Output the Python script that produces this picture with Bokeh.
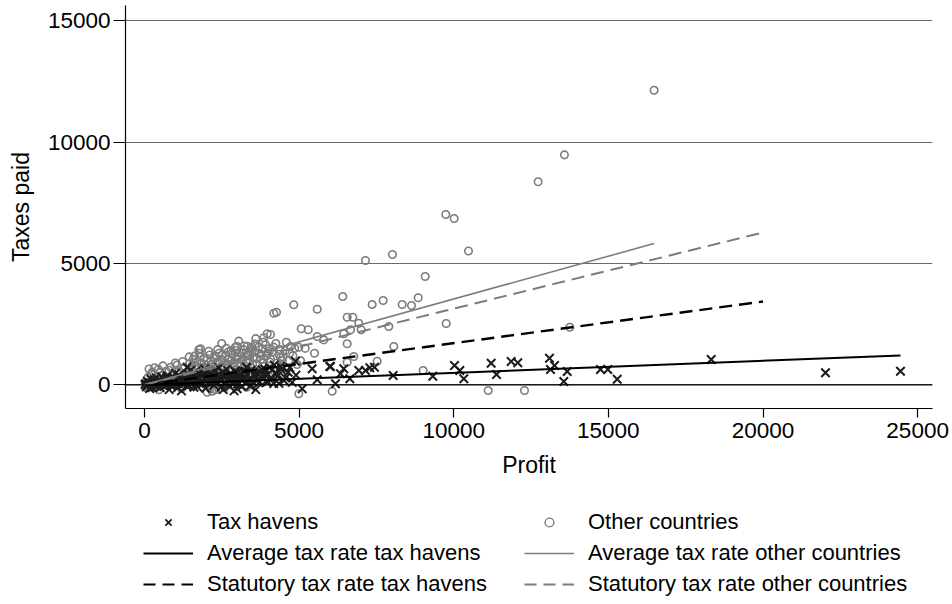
from bokeh.plotting import figure
from bokeh.models import Range1d, Legend, LegendItem, Span, ColumnDataSource
from bokeh.layouts import column
from bokeh.embed import file_html
from bokeh.resources import INLINE

# ---------------- data ----------------
other_profit = [16480, 13580, 12730, 9745, 10016, 10478, 8021, 7148, 9078, 8335,
                8636, 8852, 9757, 13754, 9013, 11115, 12289, 6415, 7364, 7720,
                6556, 6738, 6932, 6447, 6663, 7009, 6556, 7902, 8064, 6770,
                7526, 6072, 4184, 4271, 4830, 5587, 5069, 5296, 5587, 4077,
                3861, 3841, 4022, 4400, 4724, 4992, 3000, 3485, 2978, 4669,
                4940, 4992, 2030, 2192, 1814, 6556, 5047, 4455, 1760, 3970,
                3324, 2137, 466, 68,
                120, 250, 380, 450, 560, 610, 700, 780, 850, 920,
                980, 1050, 1110, 1180, 1240, 1290, 1350, 1410, 1460, 1520,
                1580, 1630, 1690, 1740, 1800, 1850, 1900, 1960, 2010, 2060,
                2110, 2160, 2210, 2260, 2310, 2360, 2410, 2460, 2510, 2560,
                2610, 2660, 2710, 2760, 2810, 2860, 2910, 2960, 3010, 3060,
                3110, 3160, 3210, 3260, 3310, 3360, 3410, 3460, 3520, 3580,
                3640, 3700, 3760, 3820, 3880, 3950, 4050, 4150, 4250, 4350,
                4550, 4800, 5200, 5500, 5800,
                30, 80, 200, 300, 420, 520, 640, 760, 900, 1020,
                1150, 1300, 1500, 1700, 1950, 2200, 2450, 2700, 2950, 3200,
                3450, 3700, 3900, 4200, 4600, 150, 330, 600, 1000, 1450,
                2300, 2600, 1200, 3300,
                1550, 1620, 1700, 1780, 1860, 1930, 2000, 2080, 2150, 2230,
                2290, 2370, 2440, 2520, 2590, 2650, 2730, 2800, 2870, 2940,
                3030, 3090, 3150, 3230, 3290, 3370, 3440, 3500, 3560, 3630,
                3690, 3780, 3840, 3920, 3990, 4080, 4180, 4290, 4380, 4480,
                4590, 4700, 4860, 4450, 3350, 2850, 2350, 1850, 1250, 800,
                500, 220, 3050, 2500, 3600]
other_tax = [12130, 9470, 8360, 7014, 6849, 5513, 5367, 5119, 4460, 3307,
             3266, 3583, 2525, 2372, 589, -235, -235, 3637, 3307, 3472,
             2784, 2784, 2537, 2100, 2265, 2265, 1689, 2401, 1577, 1166,
             972, -263, 2949, 2990, 3295, 3114, 2306, 2265, 1989, 2072,
             1936, 1755, 1483, 1137, 1577, 1549, 1577, 1549, 1413, 1001,
             836, -371, -305, -263, 1483, 931, 1001, 1001, 1441, 2100,
             1590, -165, -206, -124,
             310, 520, 150, 640, 380, 90, 560, 280, 720, 450,
             180, 810, 590, 330, 960, 700, 480, 150, 880, 640,
             1050, 390, 770, 520, 1150, 900, 260, 680, 1020, 480,
             1230, 830, 600, 1100, 350, 950, 1300, 720, 1040, 490,
             1180, 860, 1350, 620, 990, 1250, 760, 1100, 880, 1330,
             560, 1020, 1450, 780, 1200, 940, 1380, 680, 1130, 1680,
             860, 1290, 1040, 1480, 760, 1200, 940, 1350, 1700, 1260,
             1400, 1200, 1500, 1300, 1850,
             80, -60, 40, -90, 250, 30, 210, -40, 120, 20,
             240, 60, 320, 130, 40, 260, 110, 340, 200, 420,
             280, 500, 330, 560, 700, 650, 700, 780, 900, 1150,
             -200, -120, -150, -100,
             820, 1180, 950, 1300, 700, 1100, 820, 1380, 1000, 750,
             1180, 1450, 880, 1250, 700, 1500, 1050, 1400, 900, 1550,
             1150, 760, 1300, 1600, 950, 1250, 1500, 850, 1350, 1100,
             1550, 1250, 900, 1650, 1300, 1050, 1550, 900, 1450, 1150,
             1750, 1300, 1500, 800, 650, 550, 500, 450, 650, 600,
             500, 450, 1800, 1700, 1900]

haven_profit = [9324, 10026, 10198, 10327, 11212, 11384, 11859, 12072, 13097, 13259,
                13130, 13669, 13560, 14746, 14982, 15286, 18325, 22020, 24445, 6016,
                6447, 6340, 6178, 6641, 6932, 7148, 7288, 7439, 8043, 4885,
                5425, 5995, 5587, 5102, 4400, 3000, 3194, 3647, 3915, 4508,
                3970, 1384, 1005,
                20, 60, 90, 130, 170, 210, 260, 300, 340, 380,
                420, 470, 510, 560, 600, 650, 700, 740, 790, 830,
                880, 930, 970, 1020, 1070, 1120, 1160, 1210, 1250, 1300,
                1350, 1400, 1440, 1490, 1530, 1580, 1620, 1670, 1710, 1760,
                1800, 1850, 1890, 1940, 1980, 2030, 2070, 2120, 2160, 2210,
                2250, 2300, 2340, 2390, 2430, 2480, 2520, 2570, 2610, 2660,
                2700, 2750, 2790, 2840, 2880, 2930, 2970, 3020, 3070, 3120,
                3170, 3220, 3280, 3330, 3390, 3450, 3510, 3580, 3660, 3740,
                3820, 3900, 4000, 4120, 4250, 4350,
                40, 110, 190, 240, 320, 400, 450, 530, 620, 680,
                760, 850, 950, 1100, 1230, 1380, 1520, 1650, 1780, 1920,
                2100, 2280, 2460, 2640, 2820, 3000, 3150, 3350,
                550, 720, 900, 1080, 1260, 1450, 1600, 1730, 1880, 2010,
                2190, 2370, 2550, 2730, 2910, 3090, 3260, 3420, 3550, 3700,
                3800, 3950, 4050, 4180, 4300, 4420, 4560, 4650, 4780, 4200,
                3600, 2900, 2400, 1950, 1500, 3300, 4700, 4900, 1200, 800]
haven_tax = [355, 795, 589, 247, 890, 424, 960, 906, 1096, 795,
             630, 548, 136, 630, 630, 231, 1042, 494, 560, 754,
             659, 453, 41, 247, 589, 589, 700, 725, 383, 972,
             659, 754, 206, -165, 754, -165, 560, 478, 383, 177,
             107, 725, 478,
             10, -80, 150, 60, -150, 230, 40, 120, -40, 290,
             90, 180, -110, 330, 60, 200, -20, 380, 140, 250,
             -60, 310, 100, 200, -120, 400, 150, 280, 20, 340,
             120, 460, -30, 230, 350, 80, 500, 180, -80, 300,
             420, 130, 560, 240, -140, 380, 60, 480, 200, 330,
             -20, 600, 150, 420, 260, -100, 520, 90, 350, 640,
             200, -50, 440, 300, 120, 560, 260, 30, 380, 480,
             170, 320, 60, 430, 240, 600, 110, 350, 200, 520,
             280, 640, 430, 250, 500, 60,
             40, -20, 90, -110, 200, -60, 50, 150, -40, 100,
             20, 200, -20, 50, 180, -60, 20, 360, 50, 420,
             250, 120, 380, 30, 200, 500, -60, 150,
             120, 280, 40, 300, 100, 380, -100, 200, 40, 520,
             80, 280, -200, 420, 80, 260, 560, -50, 450, 80,
             620, 180, 700, 50, 350, 620, 280, 520, 100, 820,
             -200, -250, 700, 650, 600, 720, 700, 400, -250, -200]

# fitted lines: endpoints (profit, taxes)
avg_haven_x = [0, 24445]
avg_haven_y = [0, 1207]
stat_haven_x = [0, 20000]
stat_haven_y = [0, 3430]
avg_other_x = [0, 16480]
avg_other_y = [0, 5820]
stat_other_x = [0, 20000]
stat_other_y = [0, 6273]

x_ticks = [0, 5000, 10000, 15000, 20000, 25000]
y_ticks = [0, 5000, 10000, 15000]

legend_labels = ["Tax havens", "Other countries",
                 "Average tax rate tax havens", "Average tax rate other countries",
                 "Statutory tax rate tax havens", "Statutory tax rate other countries"]

# ---------------- styling ----------------
FONT = "Liberation Sans"
GREY = "#7c7c7c"
DARK = "#1c1c1c"
DASH = "13 7"
KEY_DASH = "12 7"

p = figure(width=952, height=500, output_backend="svg", toolbar_location=None,
           x_range=Range1d(-611, 25480), y_range=Range1d(-976, 15622),
           min_border_left=125, min_border_right=20, min_border_top=5,
           min_border_bottom=92)
p.outline_line_color = None
p.background_fill_color = "white"
p.border_fill_color = "white"

p.xgrid.visible = False
p.ygrid.grid_line_color = "#6a6a6a"
p.ygrid.grid_line_width = 1.2

for ax in (p.xaxis[0], p.yaxis[0]):
    ax.axis_line_color = "black"
    ax.axis_line_width = 1.2
    ax.major_tick_line_color = "black"
    ax.major_tick_line_width = 1.2
    ax.major_tick_in = 0
    ax.minor_tick_line_color = None
    ax.major_label_text_font = FONT
    ax.major_label_text_font_size = "22.5px"
    ax.major_label_text_color = "black"
    ax.axis_label_text_font = FONT
    ax.axis_label_text_font_size = "23px"
    ax.axis_label_text_font_style = "normal"
    ax.axis_label_text_color = "black"

p.xaxis.ticker = x_ticks
p.yaxis.ticker = y_ticks
p.xaxis.major_tick_out = 9
p.yaxis.major_tick_out = 12
p.xaxis.major_label_standoff = 5
p.yaxis.major_label_standoff = 3
p.xaxis.axis_label = "Profit"
p.yaxis.axis_label = "Taxes paid"
p.xaxis.axis_label_standoff = 11
p.yaxis.axis_label_standoff = 11

p.add_layout(Span(location=0, dimension="width", line_color="black", line_width=1.2))

src_o = ColumnDataSource(dict(x=other_profit, y=other_tax))
src_h = ColumnDataSource(dict(x=haven_profit, y=haven_tax))

p.scatter("x", "y", source=src_o, marker="circle", size=7.5,
          line_color=GREY, line_width=1.6, fill_color=None)
p.scatter("x", "y", source=src_h, marker="x", size=12,
          line_color=DARK, line_width=2)

p.line(avg_haven_x, avg_haven_y, line_color="black", line_width=2)
p.line(avg_other_x, avg_other_y, line_color=GREY, line_width=1.6)
p.line(stat_haven_x, stat_haven_y, line_color="black", line_width=2.4, line_dash=DASH)
p.line(stat_other_x, stat_other_y, line_color=GREY, line_width=2, line_dash=DASH)

# ---------------- legend panel (keys only, no data drawn) ----------------
q = figure(width=952, height=104, output_backend="svg", toolbar_location=None,
           x_axis_type=None, y_axis_type=None,
           x_range=Range1d(0, 1), y_range=Range1d(0, 1),
           min_border_left=125, min_border_right=20, min_border_top=0,
           min_border_bottom=0)
q.outline_line_color = None
q.grid.visible = False

nan = [float("nan")]
k_h = q.scatter(x=nan, y=nan, marker="x", size=8, line_color=DARK, line_width=1.8)
k_o = q.scatter(x=nan, y=nan, marker="circle", size=6, line_color=GREY,
                line_width=1.4, fill_color=None)
k_ah = q.line(x=nan, y=nan, line_color="black", line_width=2)
k_ao = q.line(x=nan, y=nan, line_color=GREY, line_width=1.6)
k_sh = q.line(x=nan, y=nan, line_color="black", line_width=2, line_dash=KEY_DASH)
k_so = q.line(x=nan, y=nan, line_color=GREY, line_width=1.8, line_dash=KEY_DASH)

keys = [k_h, k_o, k_ah, k_ao, k_sh, k_so]
legend = Legend(items=[LegendItem(label=lab, renderers=[r])
                       for lab, r in zip(legend_labels, keys)],
                location=(18, 7), orientation="horizontal", ncols=2)
legend.label_text_font = FONT
legend.label_text_font_size = "22px"
legend.label_text_color = "black"
legend.glyph_width = 50
legend.glyph_height = 22
legend.label_height = 22
legend.label_standoff = 14
legend.label_width = 312
legend.spacing = 5
legend.padding = 0
legend.margin = 0
legend.border_line_color = None
legend.background_fill_alpha = 0
q.add_layout(legend)

open("out.html", "w").write(file_html(column(p, q, spacing=0), INLINE))
